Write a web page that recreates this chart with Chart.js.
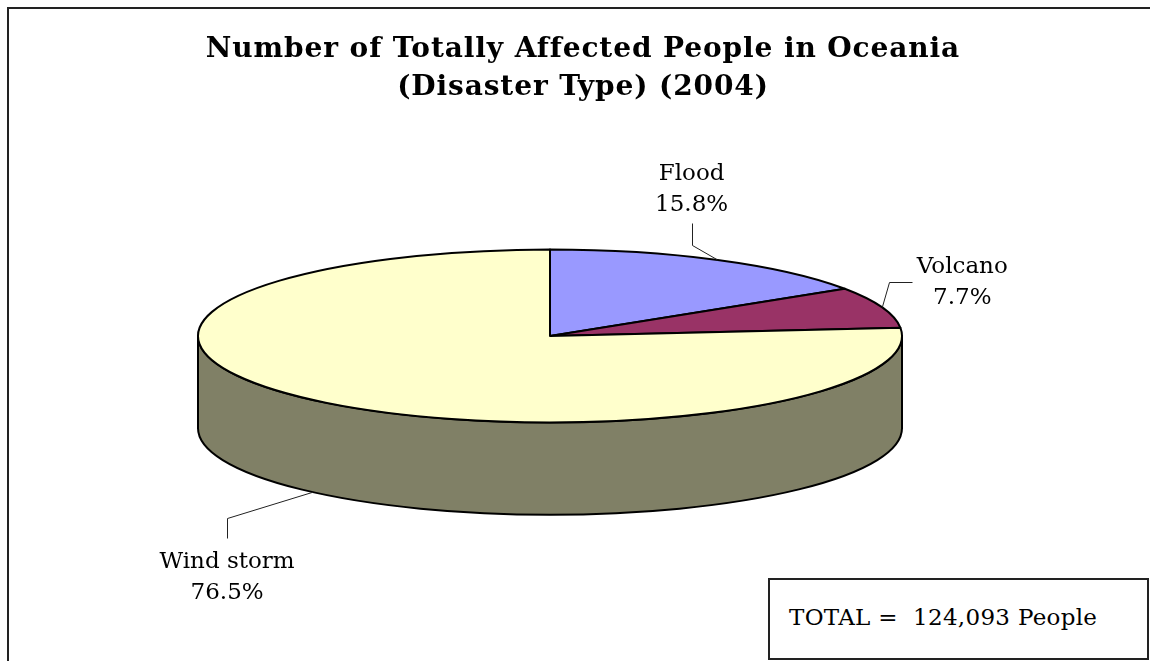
<!DOCTYPE html>
<html>
<head>
<meta charset="utf-8">
<script src="https://cdn.jsdelivr.net/npm/chart.js@4"></script>
<style>
  html, body { margin: 0; padding: 0; background: #fff; overflow: hidden; }
  #frame { position: absolute; left: 7px; top: 7px; width: 1200px; height: 720px;
           border: 2px solid #222; box-sizing: border-box; }
  #title { position: absolute; left: 0; top: 29px; width: 1166px; text-align: center;
           font: bold 28px "DejaVu Serif"; line-height: 38px; letter-spacing: 0.9px; color: #000; }
  #total { position: absolute; left: 768px; top: 578px; width: 381px; height: 82px;
           border: 2px solid #222; box-sizing: border-box; background: #fff; }
  #total span { position: absolute; left: 19px; top: 23px; white-space: pre;
                font: 23px "DejaVu Serif"; line-height: 28px; letter-spacing: 0.3px; color: #000; }
  canvas { position: absolute; left: 0; top: 0; }
</style>
</head>
<body>
<div id="frame"></div>
<canvas id="pie" width="1150" height="661"></canvas>
<div id="title">Number of Totally Affected People in Oceania<br>(Disaster Type) (2004)</div>
<div id="total"><span id="totalText"></span></div>
<script>
// data
const categories = ['Flood', 'Volcano', 'Wind storm'];
const shares     = [15.8, 7.7, 76.5];          // percent of affected people
const totalPeople = 124093;

// look
const topColors  = ['#9999ff', '#993366', '#ffffcc'];
const sideColors = ['#4d4d80', '#4d1a33', '#808066'];
const TILT  = 0.2457;   // ry / rx of the top face
const DEPTH = 0.262;    // side height / rx
// leader line + text placement, relative to the slice anchor point
const labelPlace = [
  { elbow: [-26, -15], end: [-26, -37], text: [-26, -80] },
  { elbow: [7, -25],   end: [30, -25],  text: [80, -34] },
  { elbow: [-86, 26],  end: [-86, 46],  text: [-86, 76] },
];

document.getElementById('totalText').textContent =
  'TOTAL =  ' + totalPeople.toLocaleString('en-US') + ' People';

const pie3d = {
  id: 'pie3d',
  beforeDatasetsDraw(chart) {
    const ctx  = chart.ctx;
    const arcs = chart.getDatasetMeta(0).data;
    const cx = arcs[0].x, cy = arcs[0].y;
    const rx = arcs[0].outerRadius, ry = rx * TILT, depth = rx * DEPTH;

    ctx.save();
    ctx.lineWidth = 2;
    ctx.strokeStyle = '#000';
    ctx.lineJoin = 'round';

    // outer walls, front half only
    arcs.forEach((arc, i) => {
      const a1 = Math.max(arc.startAngle, 0), a2 = Math.min(arc.endAngle, Math.PI);
      if (a2 <= a1) return;
      ctx.beginPath();
      ctx.ellipse(cx, cy, rx, ry, 0, a1, a2);
      ctx.lineTo(cx + rx * Math.cos(a2), cy + depth + ry * Math.sin(a2));
      ctx.ellipse(cx, cy + depth, rx, ry, 0, a2, a1, true);
      ctx.closePath();
      ctx.fillStyle = sideColors[i];
      ctx.fill();
      ctx.stroke();
    });

    // top faces
    arcs.forEach((arc, i) => {
      ctx.beginPath();
      ctx.moveTo(cx, cy);
      ctx.ellipse(cx, cy, rx, ry, 0, arc.startAngle, arc.endAngle);
      ctx.closePath();
      ctx.fillStyle = topColors[i];
      ctx.fill();
      ctx.stroke();
    });

    // labels with leader lines
    ctx.font = '23px "DejaVu Serif"';
    ctx.textAlign = 'center';
    ctx.textBaseline = 'alphabetic';
    ctx.fillStyle = '#000';
    ctx.strokeStyle = '#222';
    ctx.lineWidth = 1;
    arcs.forEach((arc, i) => {
      const mid = (arc.startAngle + arc.endAngle) / 2;
      const ax = cx + rx * Math.cos(mid);
      let ay = cy + ry * Math.sin(mid);
      if (Math.sin(mid) > 0) ay += depth;
      const p = labelPlace[i];
      ctx.beginPath();
      ctx.moveTo(ax, ay);
      ctx.lineTo(Math.round(ax + p.elbow[0]) + 0.5, Math.round(ay + p.elbow[1]) + 0.5);
      ctx.lineTo(Math.round(ax + p.end[0]) + 0.5, Math.round(ay + p.end[1]) + 0.5);
      ctx.stroke();
      const tx = ax + p.text[0], ty = ay + p.text[1];
      ctx.fillText(categories[i], tx, ty);
      ctx.fillText(shares[i].toFixed(1) + '%', tx, ty + 31);
    });

    ctx.restore();
    return false;
  }
};

new Chart(document.getElementById('pie'), {
  type: 'pie',
  data: {
    labels: categories,
    datasets: [{ data: shares, backgroundColor: topColors, borderWidth: 0 }]
  },
  options: {
    responsive: false,
    animation: false,
    devicePixelRatio: 1,
    radius: 352,
    layout: { padding: { left: 0, right: 50, top: 11, bottom: 0 } },
    plugins: { legend: { display: false }, tooltip: { enabled: false } }
  },
  plugins: [pie3d]
});
</script>
</body>
</html>
